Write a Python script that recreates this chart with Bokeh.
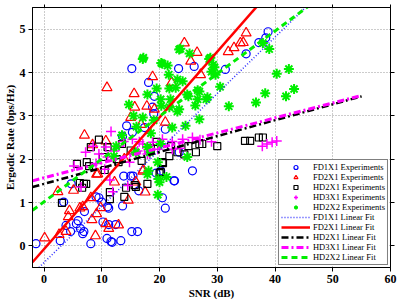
import numpy as np
from bokeh.plotting import figure
from bokeh.models import (FixedTicker, LinearAxis, Legend, LegendItem,
                          CustomJSTickFormatter, Range1d)
from bokeh.embed import file_html
from bokeh.resources import INLINE

# ---------------- data ----------------
fd1x1_x = [15.2, 23.3, 26.0, 18.1, 19.1, 19.0, 14.3, 15.3, 17.4, 21.0, 31.4, 35.0, 37.2, 38.4, 38.8,
           13.6, 18.8, 23.4, 25.7, 22.6, 20.2, 15.0, -1.4, 2.8, 3.4, 4.7, 3.8, 4.6, 5.6, 6.3, 6.9,
           7.0, 8.1, 9.5, 10.0, 11.2, 10.2, 11.2, 12.4, 10.9, 11.8, 13.3, 13.6, 13.8, 15.2, 16.2,
           15.4, 16.4, 19.4, 20.5, 21.0, 22.5, 5.9, 6.7, 9.0, 11.0, 11.6]
fd1x1_y = [4.09, 4.09, 4.14, 3.77, 3.45, 3.05, 2.77, 2.62, 2.73, 2.69, 4.07, 4.43, 4.69, 4.80, 4.94,
           2.53, 3.20, 2.16, 1.73, 1.50, 1.73, 1.61, 0.05, 0.12, 1.01, 1.43, 0.47, 0.33, 0.51, 0.40, 0.33,
           0.79, 0.05, 1.11, 1.01, 0.87, 0.55, 0.49, 0.49, 0.17, 0.08, 0.12, 0.92, 1.61, 0.33, 0.33,
           1.61, 1.27, 1.68, 1.11, 0.87, 1.50, 0.58, 0.28, 1.13, 0.90, 0.10]

fd2x1_x = [10.9, 15.6, 18.8, 24.3, 26.5, 25.4, 22.1, 17.8, 19.1, 15.0, 7.0, 8.4, 10.7, 21.0, 16.8,
           27.1, 31.9, 32.9, 34.0, 34.5, 35.0, 9.1, 15.7, 17.1, 0.1, 2.4, 5.1, 4.4, 4.2, 3.8, 2.6,
           6.2, 6.7, 9.3, 8.1, 8.3, 9.1, 9.8, 8.9, 10.7, 11.2, 12.9, 13.9, 14.6, 15.9, 17.2, 17.5, 12.2]
fd2x1_y = [3.65, 3.51, 3.90, 4.68, 4.46, 4.26, 3.77, 3.22, 3.15, 2.96, 2.55, 2.33, 2.42, 2.85, 2.80,
           3.95, 4.48, 4.57, 4.68, 4.69, 4.91, 1.65, 3.20, 1.72, 0.18, 1.25, 1.28, 0.81, 0.67, 0.33, 0.26,
           0.87, 0.90, 1.66, 1.11, 0.60, 0.74, 0.88, 0.23, 0.51, 0.40, 0.48, 2.00, 1.05, 1.47, 1.75, 1.24, 1.47]

hd2x1_x = [34.8, 35.7, 37.2, 37.9, 27.4, 30.0, 23.1, 16.9, 20.5, 20.0, 17.9, 15.7, 8.1, 11.0, 10.2,
           12.6, 5.7, 7.8, 12.9, 6.9, 6.2, 3.1, 6.6, 7.3, 7.4, 11.4, 11.4, 13.9, 14.2, 15.9, 20.2,
           20.6, 21.7, 24.3, 26.3, 9.5, 13.5, 15.0, 18.5, 19.5, 22.0, 25.0, 10.5, 26.9]
hd2x1_y = [2.42, 2.42, 2.50, 2.50, 2.35, 2.30, 2.16, 1.96, 1.93, 1.68, 1.43, 1.40, 2.28, 2.28, 2.05,
           2.00, 1.89, 1.84, 1.93, 1.43, 1.45, 0.99, 1.34, 1.43, 1.93, 1.24, 1.08, 1.13, 1.34, 1.36, 1.70,
           1.91, 2.07, 2.11, 2.16, 2.45, 2.35, 2.20, 2.25, 2.40, 2.30, 2.30, 1.75, 2.35]

hd3x1_x = [37.8, 38.6, 39.5, 40.3, 15.3, 17.1, 18.8, 20.5, 22.2, 24.0, 25.7, 17.9, 16.2, 19.7, 5.2,
           7.2, 9.5, 10.7, 12.1, 13.8, 11.6, 6.4, 10.5, 11.4, 11.9, 14.5, 14.8, 18.3, 22.2, 8.5,
           9.0, 13.0, 27.0, 29.0, 23.5, 11.0, 16.5]
hd3x1_y = [2.30, 2.35, 2.39, 2.42, 2.46, 2.35, 2.39, 2.46, 2.41, 2.46, 2.50, 2.12, 2.19, 2.23, 1.84,
           2.16, 2.12, 2.28, 2.19, 2.41, 2.64, 1.36, 1.77, 1.52, 1.25, 1.39, 1.93, 2.12, 2.23, 2.30,
           1.90, 2.30, 2.45, 2.40, 2.25, 2.05, 2.40]

hd2x2_x = [28.6, 29.3, 29.0, 29.7, 30.5, 28.1, 32.0, 36.7, 38.3, 40.3, 42.4, 41.9, 43.3, 37.9, 39.0,
           17.1, 20.3, 21.4, 23.4, 25.2, 21.6, 23.1, 19.5, 17.9, 21.7, 24.0, 25.0, 14.7, 20.3, 17.1,
           21.9, 23.4, 26.2, 26.6, 26.9, 17.2, 23.6, 20.5, 28.8, 29.5, 22.8, 26.9, 24.8, 20.2, 21.7,
           23.1, 24.5, 22.2, 26.6, 28.3, 17.9, 20.2, 21.2, 17.9, 20.0, 19.7, 19.8, 19.7, 18.1, 18.3,
           15.9, 24.8, 12.1, 16.0, 18.5, 19.0, 15.5, 13.5, 12.5]
hd2x2_y = [4.31, 4.18, 4.02, 3.95, 3.67, 3.38, 3.22, 3.31, 3.52, 3.97, 4.08, 3.45, 3.62, 4.68, 4.54,
           4.31, 4.22, 4.16, 4.53, 4.44, 3.95, 3.84, 3.63, 3.49, 3.63, 3.80, 3.45, 3.26, 3.23, 2.96,
           3.38, 3.15, 3.24, 3.59, 2.92, 4.34, 4.55, 4.20, 4.34, 4.12, 3.65, 3.56, 3.49, 3.38, 3.20,
           3.10, 2.77, 2.73, 3.38, 3.43, 2.28, 2.35, 1.59, 1.65, 1.47, 1.93, 1.54, 1.18, 1.73, 2.16,
           2.16, 2.05, 2.07, 2.75, 2.60, 2.90, 3.00, 2.55, 2.30]

# linear-fit end points (SNR, rate)
fd1x1_fit_x = [-2, 46];  fd1x1_fit_y = [-0.645, 5.595]
fd2x1_fit_x = [-2, 40];  fd2x1_fit_y = [-0.38, 6.0]
hd2x1_fit_x = [-2, 55];  hd2x1_fit_y = [1.357, 3.45]
hd3x1_fit_x = [-2, 55];  hd3x1_fit_y = [1.50, 3.47]
hd2x2_fit_x = [-2, 46];  hd2x2_fit_y = [0.82, 5.55]

x_ticks = [0, 10, 20, 30, 40, 50, 60]
y_ticks = [0, 1, 2, 3, 4, 5]

FONT = "Liberation Serif"

p = figure(width=399, height=301, output_backend="svg", toolbar_location=None,
           x_range=Range1d(-2, 60), y_range=Range1d(-0.5, 5.5),
           min_border_left=29, min_border_right=9, min_border_top=7, min_border_bottom=33,
           background_fill_color="white", border_fill_color="white")
p.outline_line_color = "black"
p.outline_line_width = 1

xt = FixedTicker(ticks=x_ticks)
yt = FixedTicker(ticks=y_ticks)
p.xaxis.ticker = xt
p.yaxis.ticker = yt
p.xgrid.ticker = xt
p.ygrid.ticker = yt
for g in (p.xgrid, p.ygrid):
    g.grid_line_color = "#999999"
    g.grid_line_dash = "1 2"
    g.grid_line_width = 1

for ax in (p.xaxis, p.yaxis):
    ax.major_label_text_font = FONT
    ax.major_label_text_font_style = "bold"
    ax.major_label_text_font_size = "12px"
    ax.major_label_text_line_height = 1.0
    ax.major_label_text_color = "black"
    ax.major_tick_out = 4
    ax.major_tick_in = 0
    ax.minor_tick_line_color = None
    ax.axis_line_color = "black"
    ax.major_tick_line_color = "black"
    ax.axis_label_text_font = FONT
    ax.axis_label_text_font_style = "bold"
    ax.axis_label_text_font_size = "11px"
    ax.axis_label_text_line_height = 1.0
    ax.axis_label_text_color = "black"

p.xaxis.major_label_standoff = 3
p.xaxis.axis_label_standoff = 1
p.yaxis.major_label_standoff = 3
p.yaxis.axis_label_standoff = 1
p.xaxis.axis_label = "SNR (dB)"
p.yaxis.axis_label = "Ergodic Rate (bps/Hz)"

blank = "return ''"
right_ax = LinearAxis(ticker=yt, formatter=CustomJSTickFormatter(code=blank),
                      major_tick_out=4, major_tick_in=0, minor_tick_line_color=None,
                      major_label_standoff=0, axis_line_color="black")
p.add_layout(right_ax, "right")
top_ax = LinearAxis(ticker=xt, formatter=CustomJSTickFormatter(code=blank),
                    major_tick_out=3, major_tick_in=0, minor_tick_line_color=None,
                    major_label_standoff=0, axis_line_color="black")
p.add_layout(top_ax, "above")

r1 = p.scatter(fd1x1_x, fd1x1_y, marker="circle", size=8, fill_color=None,
               line_color="#0000ff", line_width=1.2)
r2 = p.scatter(fd2x1_x, fd2x1_y, marker="triangle", size=10, fill_color=None,
               line_color="#ff0000", line_width=1.2)
r3 = p.scatter(hd2x1_x, hd2x1_y, marker="square", size=7, fill_color=None,
               line_color="black", line_width=1.2)
r4 = p.scatter(hd3x1_x, hd3x1_y, marker="cross", size=10, line_color="#ff00ff", line_width=1.5)
r5 = p.scatter(hd2x2_x, hd2x2_y, marker="asterisk", size=10, line_color="#00ee00", line_width=2)

l1 = p.line(fd1x1_fit_x, fd1x1_fit_y, line_color="#3333ff", line_width=1.6, line_dash="1 2")
l2 = p.line(fd2x1_fit_x, fd2x1_fit_y, line_color="#ff0000", line_width=2.5)
l3 = p.line(hd2x1_fit_x, hd2x1_fit_y, line_color="black", line_width=2.5, line_dash="7 3 2 3")
l4 = p.line(hd3x1_fit_x, hd3x1_fit_y, line_color="#ff00ff", line_width=3, line_dash="7 3 2 3")
l5 = p.line(hd2x2_fit_x, hd2x2_fit_y, line_color="#00ee00", line_width=3, line_dash="6 4")

items = [
    LegendItem(label="FD1X1 Experiments", renderers=[r1]),
    LegendItem(label="FD2X1 Experiments", renderers=[r2]),
    LegendItem(label="HD2X1 Experiments", renderers=[r3]),
    LegendItem(label="HD3X1 Experiments", renderers=[r4]),
    LegendItem(label="HD2X2 Experiments", renderers=[r5]),
    LegendItem(label="FD1X1 Linear Fit", renderers=[l1]),
    LegendItem(label="FD2X1 Linear Fit", renderers=[l2]),
    LegendItem(label="HD2X1 Linear Fit", renderers=[l3]),
    LegendItem(label="HD3X1 Linear Fit", renderers=[l4]),
    LegendItem(label="HD2X2 Linear Fit", renderers=[l5]),
]
legend = Legend(items=items, location="bottom_right",
                label_text_font=FONT, label_text_font_size="8.5px", label_text_color="black",
                label_text_line_height=1.0,
                glyph_width=29, glyph_height=10, label_height=10, spacing=0,
                padding=2, label_standoff=3, margin=2,
                border_line_color="black", border_line_width=1,
                background_fill_color="white", background_fill_alpha=1.0)
p.add_layout(legend)

open("out.html", "w").write(file_html(p, INLINE))
